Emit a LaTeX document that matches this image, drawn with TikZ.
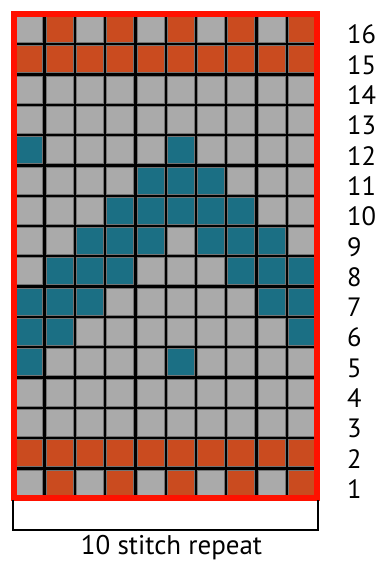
\documentclass[tikz,border=0pt]{standalone}
\usepackage{fontspec}
\setmainfont{PT Sans}
\definecolor{cG}{HTML}{AAAAAA}
\definecolor{cO}{HTML}{CA4B1F}
\definecolor{cT}{HTML}{1B6F84}
\definecolor{edgered}{HTML}{FF1100}
\tikzset{
  cell/.style={line width=0.6pt,draw=black!55},
  frame/.style={draw=edgered,line width=6pt},
  brace/.style={line width=2pt},
  rownum/.style={anchor=base west,inner sep=0pt,font=\fontsize{26.5}{31}\selectfont},
  caption/.style={anchor=base,inner sep=0pt,font=\fontsize{27}{32}\selectfont}
}

\begin{document}
\begin{tikzpicture}[x=30.3pt,y=30.3pt]
\useasboundingbox (-0.462,-2.129) rectangle (12.079,16.452);
% chart background = grid lines
\fill (0,0) rectangle (10,16);
\foreach \r/\cells in {
  1/{G,O,G,O,G,O,G,O,G,O},
  2/{O,O,O,O,O,O,O,O,O,O},
  3/{G,G,G,G,G,G,G,G,G,G},
  4/{G,G,G,G,G,G,G,G,G,G},
  5/{T,G,G,G,G,T,G,G,G,G},
  6/{T,T,G,G,G,G,G,G,G,T},
  7/{T,T,T,G,G,G,G,G,T,T},
  8/{G,T,T,T,G,G,G,T,T,T},
  9/{G,G,T,T,T,G,T,T,T,G},
  10/{G,G,G,T,T,T,T,T,G,G},
  11/{G,G,G,G,T,T,T,G,G,G},
  12/{T,G,G,G,G,T,G,G,G,G},
  13/{G,G,G,G,G,G,G,G,G,G},
  14/{G,G,G,G,G,G,G,G,G,G},
  15/{O,O,O,O,O,O,O,O,O,O},
  16/{G,O,G,O,G,O,G,O,G,O}}{
  \foreach \c [count=\i] in \cells
    \filldraw[cell,fill=c\c] (\i-1+0.055,\r-1+0.055) rectangle (\i-0.055,\r-0.055);
  \node[rownum] (row\r) at (10.99,\r-1) {\r};
}
\draw[frame] (0,0) rectangle (10,16);
% repeat bracket
\coordinate (repL) at (-0.02,-0.05);
\coordinate (repR) at (10.02,-0.05);
\draw[brace] (repL) -- ++(0,-0.99) -| (repR);
\node[caption] (repeat) at (5.2,-1.84) {10 stitch repeat};
\end{tikzpicture}
\end{document}
